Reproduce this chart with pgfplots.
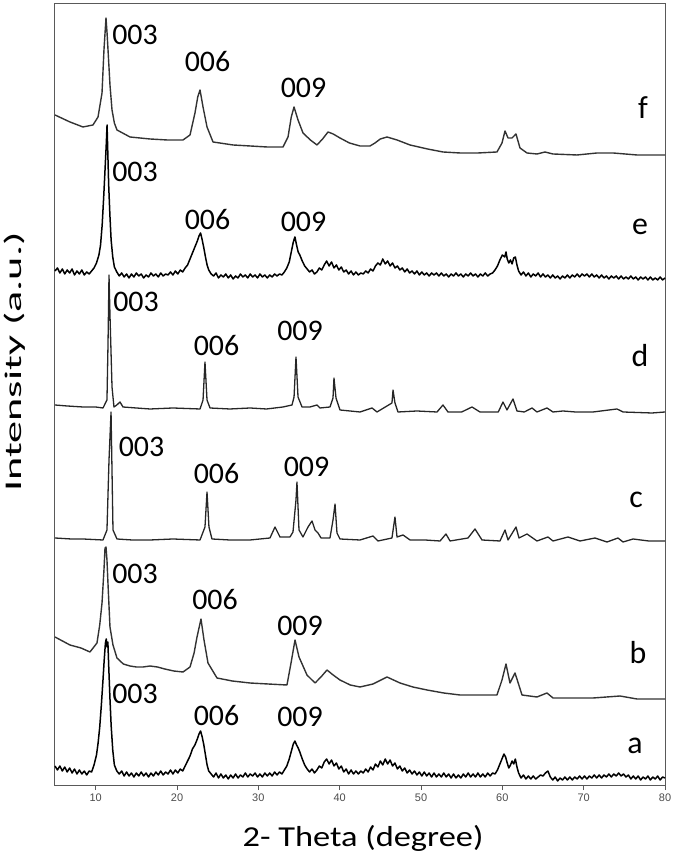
\documentclass[border=0pt]{standalone}
\usepackage{pgfplots}
\pgfplotsset{compat=1.18}
\usepackage{fontspec}
\setmainfont{Carlito}
\newfontfamily\arialf{Liberation Sans}
\begin{document}
\begin{tikzpicture}[x=1bp,y=1bp,
  pklab/.style={font=\fontsize{30}{34}\selectfont, inner sep=0pt, anchor=center},
  crvlab/.style={font=\fontsize{32}{36}\selectfont, inner sep=0pt, anchor=center}]
\path[use as bounding box] (-55,-78) rectangle (620,785);
\begin{axis}[at={(0,0)}, anchor=south west,
  scale only axis, width=610bp, height=781bp,
  xmin=5, xmax=80, ymin=0, ymax=781,
  ytick=\empty, xtick={10,20,...,80}, xtick pos=bottom,
  tick align=outside, major tick length=5bp,
  tick style={gray!70!black, line width=0.8bp},
  axis line style={gray!70!black, line width=1bp},
  xticklabel style={font=\arialf\fontsize{11}{12}\selectfont, text=gray!60!black},
  /pgf/number format/assume math mode=true,
  clip=false,
  smoothc/.style={draw=black!80, mark=none, line width=1.4bp, line join=round},
  sharpc/.style={draw=black!85, mark=none, line width=1.3bp, line join=round},
  noisyc/.style={draw=black, mark=none, line width=1.5bp, line join=round},
]
% f
\addplot[smoothc] coordinates {(5.00,670)(6.84,663)(8.44,658)(9.67,660)(10.29,668)(10.78,692)(11.02,735)(11.27,767)(11.40,752)(11.52,735)(11.76,700)(12.01,675)(12.30,662)(12.62,655)(14.22,648)(16.68,646)(18.8,645)(20.74,645)(21.60,650)(22.21,672)(22.55,688)(22.83,695)(23.20,678)(23.69,658)(24.43,643)(26.89,640)(29.0,639)(31.07,638)(33.03,638)(33.65,648)(34.05,668)(34.39,678)(34.88,665)(35.49,652)(36.4,645)(37.21,640)(37.9,646)(38.57,653)(39.2,651)(40.04,647)(41.2,642)(42.50,639)(43.73,639)(44.34,642)(45.0,646)(45.82,648)(47.05,645)(48.65,640)(50.8,636)(52.70,633)(54.80,632)(57.0,632)(59.34,633)(59.96,642)(60.33,654)(60.70,647)(61.19,647)(61.68,651)(62.17,637)(63.03,632)(64.26,631)(65.25,633)(66.23,631)(69.18,630)(71.64,632)(73.61,632)(76.56,630)(80.00,630)};
% e
\addplot[noisyc] coordinates {(5.0,514)(5.3,517)(5.6,512)(5.9,516)(6.2,511)(6.5,515)(6.8,512)(7.1,516)(7.4,510)(7.7,514)(8.0,511)(8.3,515)(8.6,510)(8.9,513)(9.2,511)(9.5,514)(9.8,517)(10.1,522)(10.4,530)(10.6,540)(10.8,560)(11.0,590)(11.15,615)(11.3,640)(11.4,660)(11.5,630)(11.6,600)(11.75,570)(11.9,545)(12.1,528)(12.3,518)(12.6,513)(12.9,509)(13.2,512)(13.5,508)(13.8,511)(14.1,507)(14.4,511)(14.7,508)(15.0,512)(15.3,509)(15.6,511)(15.9,507)(16.2,510)(16.5,508)(16.8,512)(17.1,509)(17.4,511)(17.7,508)(18.0,512)(18.3,509)(18.6,511)(18.9,510)(19.2,513)(19.5,510)(19.8,514)(20.1,511)(20.4,515)(20.7,513)(21.0,517)(21.3,520)(21.6,526)(21.9,532)(22.2,538)(22.5,544)(22.7,549)(22.9,552)(23.1,545)(23.3,537)(23.5,528)(23.7,520)(23.9,515)(24.2,511)(24.5,509)(24.8,512)(25.1,507)(25.4,510)(25.7,508)(26.0,511)(26.3,507)(26.6,510)(26.9,506)(27.2,509)(27.5,507)(27.8,511)(28.1,508)(28.4,510)(28.7,507)(29.0,511)(29.3,508)(29.6,510)(29.9,507)(30.2,511)(30.5,508)(30.8,510)(31.1,507)(31.4,510)(31.7,508)(32.0,511)(32.3,509)(32.6,511)(32.9,510)(33.2,513)(33.5,517)(33.8,523)(34.1,535)(34.3,543)(34.5,548)(34.7,540)(34.9,533)(35.1,530)(35.4,524)(35.7,519)(36.0,516)(36.3,513)(36.6,515)(36.9,511)(37.2,513)(37.5,517)(37.8,515)(38.1,520)(38.4,524)(38.7,519)(39.0,523)(39.3,517)(39.6,520)(39.9,515)(40.2,518)(40.5,513)(40.8,515)(41.1,511)(41.4,514)(41.7,510)(42.0,513)(42.3,510)(42.6,512)(42.9,511)(43.2,514)(43.5,512)(43.8,516)(44.1,514)(44.4,519)(44.7,522)(45.0,520)(45.3,526)(45.6,521)(45.9,524)(46.2,519)(46.5,522)(46.8,517)(47.1,519)(47.4,515)(47.7,517)(48.0,513)(48.3,516)(48.6,512)(48.9,514)(49.2,511)(49.5,514)(49.8,510)(50.1,513)(50.4,510)(50.7,512)(51.0,509)(51.3,512)(51.6,510)(51.9,512)(52.2,509)(52.5,512)(52.8,509)(53.1,511)(53.4,508)(53.7,511)(54.0,509)(54.3,512)(54.6,509)(54.9,511)(55.2,508)(55.5,511)(55.8,509)(56.1,512)(56.4,509)(56.7,511)(57.0,508)(57.3,511)(57.6,509)(57.9,512)(58.2,509)(58.5,511)(58.8,512)(59.1,515)(59.4,519)(59.7,525)(60.0,530)(60.3,528)(60.45,533)(60.6,526)(60.8,522)(61.0,525)(61.2,521)(61.4,527)(61.6,528)(61.8,520)(62.0,514)(62.3,510)(62.6,513)(62.9,509)(63.2,512)(63.5,508)(63.8,511)(64.1,509)(64.4,512)(64.7,508)(65.0,511)(65.3,508)(65.6,510)(65.9,507)(66.2,510)(66.5,507)(66.8,509)(67.1,506)(67.4,509)(67.7,507)(68.0,510)(68.3,507)(68.6,510)(68.9,508)(69.2,511)(69.5,508)(69.8,511)(70.1,509)(70.4,511)(70.7,508)(71.0,511)(71.3,508)(71.6,510)(71.9,507)(72.2,510)(72.5,507)(72.8,509)(73.1,506)(73.4,509)(73.7,507)(74.0,509)(74.3,506)(74.6,509)(74.9,506)(75.2,508)(75.5,506)(75.8,509)(76.1,506)(76.4,508)(76.7,505)(77.0,508)(77.3,506)(77.6,508)(77.9,505)(78.2,508)(78.5,505)(78.8,507)(79.1,505)(79.4,508)(79.7,505)(80.0,507)};
% d
\addplot[sharpc] coordinates {(5.00,380)(6.5,379)(8.44,378)(10.0,378)(10.90,377)(11.39,385)(11.52,442)(11.64,510)(11.76,470)(12.01,398)(12.25,378)(12.6,380)(12.99,383)(13.36,378)(15.0,377)(16.68,376)(19.5,377)(22.83,376)(23.20,385)(23.44,423)(23.69,385)(24.06,377)(26.5,376)(28.98,377)(31.0,376)(33.03,378)(34.14,380)(34.39,388)(34.63,428)(34.88,388)(35.37,378)(36.35,378)(37.21,380)(37.58,377)(38.81,378)(39.18,387)(39.30,407)(39.55,387)(40.04,375)(42.50,373)(43.98,377)(44.59,373)(46.43,382)(46.56,395)(46.80,382)(47.17,373)(49.5,374)(51.97,373)(52.70,380)(53.32,373)(55.0,373)(56.27,378)(57.25,373)(59.5,373)(60.08,383)(60.57,375)(61.31,386)(61.80,374)(62.7,373)(63.65,377)(64.26,373)(65.49,377)(66.23,373)(67.46,374)(69.0,373)(71.15,373)(74.10,376)(74.84,373)(78.40,372)(80.00,373)};
% c
\addplot[sharpc] coordinates {(5.00,247)(7.0,246)(8.44,246)(10.90,245)(11.39,255)(11.64,325)(11.89,373)(12.13,255)(12.62,246)(14.5,245)(16.68,245)(19.5,246)(22.83,245)(23.44,258)(23.69,293)(23.93,258)(24.30,246)(26.5,245)(28.98,245)(31.43,247)(32.05,258)(32.66,248)(33.89,248)(34.26,253)(34.63,285)(34.75,303)(35.00,255)(35.49,248)(36.11,258)(36.60,264)(36.97,255)(37.34,252)(37.71,247)(38.81,247)(39.18,265)(39.43,281)(39.67,252)(40.04,246)(42.50,245)(44.10,249)(44.71,244)(46.43,247)(46.80,268)(47.05,248)(47.79,250)(48.65,245)(50.5,245)(52.34,244)(53.07,251)(53.57,244)(55.78,247)(56.64,256)(57.50,245)(59.71,244)(60.33,255)(60.70,245)(61.68,258)(62.05,247)(63.03,251)(64.26,244)(65.61,248)(66.23,244)(68.07,248)(69.55,244)(71.39,247)(72.87,243)(74.22,247)(74.84,243)(76.07,246)(78.0,244)(80.00,244)};
% b
\addplot[smoothc] coordinates {(5.00,148)(6.84,140)(8.2,137)(9.30,133)(10.16,142)(10.50,160)(10.78,182)(11.02,215)(11.15,237)(11.27,238)(11.39,225)(11.55,195)(11.76,158)(12.13,140)(12.62,127)(13.4,121)(14.22,119)(15.0,118)(15.82,118)(16.68,119)(17.6,118)(18.5,116)(19.6,114)(20.74,113)(21.60,118)(22.10,132)(22.46,148)(22.95,166)(23.32,145)(23.81,122)(24.92,107)(26.8,104)(28.98,102)(31.2,101)(33.52,100)(34.02,122)(34.51,145)(35.00,128)(35.98,110)(36.97,102)(37.7,108)(38.44,115)(39.2,110)(40.04,105)(41.3,100)(42.50,98)(44.10,101)(45.82,108)(47.42,102)(49.0,98)(50.74,95)(52.8,92)(54.80,90)(57.0,90)(59.34,90)(59.96,105)(60.45,121)(60.94,102)(61.56,112)(62.42,90)(64.26,88)(65.49,92)(66.23,87)(68.6,87)(71.15,87)(74.47,89)(76.56,86)(80.00,86)};
% a
\addplot[noisyc] coordinates {(5.0,19)(5.3,15)(5.6,19)(5.9,14)(6.2,18)(6.5,13)(6.8,17)(7.1,12)(7.4,16)(7.7,11)(8.0,15)(8.3,11)(8.6,14)(8.9,10)(9.2,14)(9.5,13)(9.8,20)(10.1,30)(10.3,42)(10.5,58)(10.7,80)(10.9,105)(11.05,125)(11.2,142)(11.3,146)(11.4,138)(11.5,143)(11.6,120)(11.75,88)(11.9,60)(12.1,35)(12.3,20)(12.6,14)(12.9,11)(13.2,14)(13.5,9)(13.8,13)(14.1,9)(14.4,12)(14.7,8)(15.0,12)(15.3,9)(15.6,13)(15.9,9)(16.2,12)(16.5,8)(16.8,12)(17.1,9)(17.4,13)(17.7,10)(18.0,14)(18.3,10)(18.6,13)(18.9,11)(19.2,15)(19.5,11)(19.8,15)(20.1,12)(20.4,16)(20.7,14)(21.0,19)(21.3,24)(21.6,29)(21.9,36)(22.2,40)(22.5,46)(22.7,51)(22.9,54)(23.1,48)(23.3,40)(23.5,30)(23.7,20)(23.9,14)(24.2,11)(24.5,8)(24.8,12)(25.1,7)(25.4,11)(25.7,7)(26.0,10)(26.3,6)(26.6,10)(26.9,7)(27.2,11)(27.5,7)(27.8,10)(28.1,8)(28.4,12)(28.7,8)(29.0,11)(29.3,9)(29.6,12)(29.9,8)(30.2,11)(30.5,8)(30.8,12)(31.1,9)(31.4,12)(31.7,9)(32.0,13)(32.3,10)(32.6,13)(32.9,11)(33.2,15)(33.5,19)(33.8,26)(34.1,35)(34.3,41)(34.5,44)(34.7,40)(34.9,37)(35.1,33)(35.4,26)(35.7,20)(36.0,16)(36.3,13)(36.6,16)(36.9,12)(37.2,15)(37.5,19)(37.8,17)(38.1,23)(38.4,26)(38.7,21)(39.0,25)(39.3,19)(39.6,22)(39.9,16)(40.2,19)(40.5,13)(40.8,16)(41.1,11)(41.4,15)(41.7,11)(42.0,14)(42.3,11)(42.6,14)(42.9,12)(43.2,16)(43.5,13)(43.8,18)(44.1,15)(44.4,21)(44.7,18)(45.0,24)(45.3,20)(45.6,26)(45.9,21)(46.2,25)(46.5,19)(46.8,22)(47.1,16)(47.4,19)(47.7,14)(48.0,17)(48.3,12)(48.6,15)(48.9,11)(49.2,14)(49.5,10)(49.8,13)(50.1,9)(50.4,13)(50.7,9)(51.0,12)(51.3,8)(51.6,12)(51.9,8)(52.2,11)(52.5,8)(52.8,12)(53.1,8)(53.4,11)(53.7,7)(54.0,11)(54.3,7)(54.6,10)(54.9,7)(55.2,11)(55.5,8)(55.8,12)(56.1,8)(56.4,11)(56.7,8)(57.0,12)(57.3,8)(57.6,11)(57.9,8)(58.2,12)(58.5,9)(58.8,12)(59.1,11)(59.4,15)(59.7,21)(60.0,27)(60.2,31)(60.4,28)(60.6,22)(60.8,17)(61.0,20)(61.2,24)(61.4,21)(61.6,26)(61.8,18)(62.0,12)(62.3,7)(62.6,10)(62.9,6)(63.2,9)(63.5,6)(63.8,9)(64.1,6)(64.4,8)(64.7,10)(65.0,9)(65.3,12)(65.6,14)(65.9,8)(66.2,5)(66.5,8)(66.8,4)(67.1,7)(67.4,5)(67.7,8)(68.0,5)(68.3,8)(68.6,5)(68.9,8)(69.2,6)(69.5,9)(69.8,6)(70.1,9)(70.4,6)(70.7,9)(71.0,7)(71.3,10)(71.6,7)(71.9,10)(72.2,7)(72.5,10)(72.8,8)(73.1,11)(73.4,8)(73.7,11)(74.0,9)(74.3,12)(74.6,9)(74.9,11)(75.2,8)(75.5,10)(75.8,6)(76.1,9)(76.4,6)(76.7,9)(77.0,5)(77.3,8)(77.6,6)(77.9,9)(78.2,5)(78.5,8)(78.8,6)(79.1,9)(79.4,5)(79.7,8)(80.0,7)};
% peak labels
\node[pklab] at (axis cs:14.84,750) {003};
\node[pklab] at (axis cs:23.75,723) {006};
\node[pklab] at (axis cs:35.55,697) {009};
\node[crvlab] at (axis cs:77.29,677) {f};
\node[pklab] at (axis cs:14.84,613) {003};
\node[pklab] at (axis cs:23.75,565) {006};
\node[pklab] at (axis cs:35.55,563) {009};
\node[crvlab] at (axis cs:76.93,558) {e};
\node[pklab] at (axis cs:14.96,483) {003};
\node[pklab] at (axis cs:24.86,439) {006};
\node[pklab] at (axis cs:35.12,454) {009};
\node[crvlab] at (axis cs:76.93,429) {d};
\node[pklab] at (axis cs:15.64,338) {003};
\node[pklab] at (axis cs:24.86,311) {006};
\node[pklab] at (axis cs:35.92,318) {009};
\node[crvlab] at (axis cs:76.44,285) {c};
\node[pklab] at (axis cs:14.84,211) {003};
\node[pklab] at (axis cs:24.67,185) {006};
\node[pklab] at (axis cs:35.12,159) {009};
\node[crvlab] at (axis cs:76.68,132) {b};
\node[pklab] at (axis cs:14.84,91) {003};
\node[pklab] at (axis cs:24.86,69) {006};
\node[pklab] at (axis cs:35.12,68) {009};
\node[crvlab] at (axis cs:76.32,39) {a};
\end{axis}
\node[inner sep=0pt] at (308,-53) {\fontsize{29}{32}\selectfont\scalebox{1.19}[1]{2- Theta (degree)}};
\node[inner sep=0pt, rotate=90] at (-40,423) {\fontsize{24}{28}\selectfont\scalebox{1.85}[1]{Intensity (a.u.)}};
\end{tikzpicture}
\end{document}
